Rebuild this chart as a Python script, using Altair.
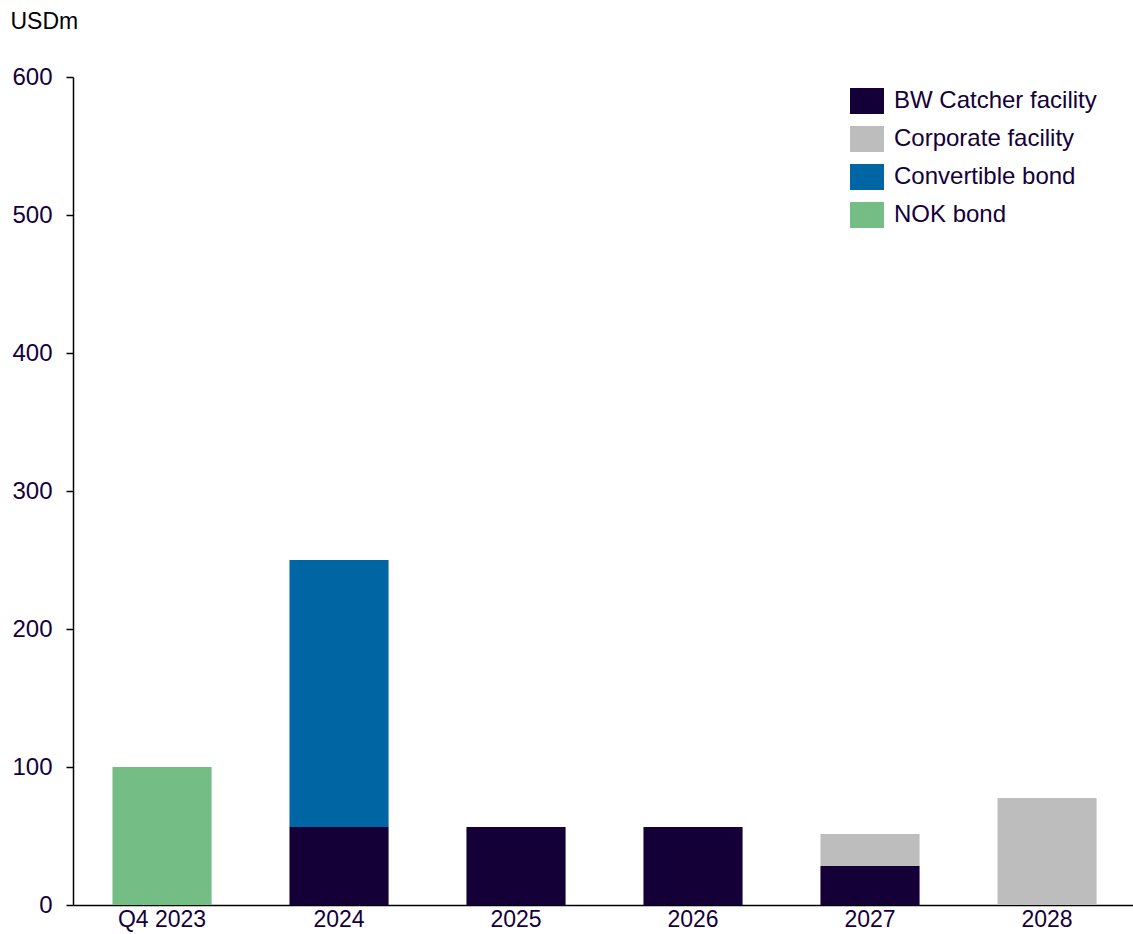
import altair as alt
import pandas as pd

periods = ["Q4 2023", "2024", "2025", "2026", "2027", "2028"]
series = ["BW Catcher facility", "Corporate facility", "Convertible bond", "NOK bond"]
colors = ["#140037", "#bdbdbd", "#0066a3", "#74be86"]
bw_catcher = [0, 56.5, 56.5, 56.5, 28.5, 0]
corporate = [0, 0, 0, 0, 23, 77.5]
convertible = [0, 193.5, 0, 0, 0, 0]
nok_bond = [100, 0, 0, 0, 0, 0]

rows = []
for i, p in enumerate(periods):
    for k, (name, vals) in enumerate(zip(series, [bw_catcher, corporate, convertible, nok_bond])):
        rows.append({"period": p, "series": name, "value": vals[i], "order": k})
df = pd.DataFrame(rows)

FONT = "Liberation Sans"
TXT = "#14003a"

chart = alt.Chart(df).mark_bar().encode(
    x=alt.X("period:N", sort=periods,
            scale=alt.Scale(paddingInner=0.44, paddingOuter=0.2144, align=0.52),
            axis=alt.Axis(title=None, labelAngle=0, ticks=False, domainColor="black",
                          domainWidth=1.5, labelColor=TXT, labelFont=FONT, labelFontSize=23,
                          labelPadding=3)),
    y=alt.Y("value:Q", stack="zero",
            scale=alt.Scale(domain=[0, 600], nice=False),
            axis=alt.Axis(values=[0, 100, 200, 300, 400, 500, 600], grid=False,
                          domainColor="black", domainWidth=1.5, tickColor="black",
                          tickSize=7, tickWidth=1.5, labelColor=TXT, labelFont=FONT,
                          labelFontSize=24, labelPadding=14,
                          title="USDm", titleAngle=0, titleAlign="left", titleBaseline="middle",
                          titleX=-63, titleY=-56, titleColor="black", titleFont=FONT,
                          titleFontSize=23, titleFontWeight="normal")),
    color=alt.Color("series:N", sort=series,
                    scale=alt.Scale(domain=series, range=colors),
                    legend=alt.Legend(title=None, orient="none", legendX=777, legendY=7,
                                      symbolType="M-1,-0.76H1V0.76H-1Z", symbolSize=1156,
                                      symbolStrokeWidth=0, symbolOpacity=1,
                                      labelFont=FONT, labelFontSize=24, labelColor=TXT,
                                      labelOffset=10, rowPadding=8, labelLimit=400)),
    order=alt.Order("order:Q", sort="ascending"),
).properties(
    width=1060, height=828,
    autosize=alt.AutoSizeParams(type="none"),
    padding={"left": 73, "top": 77, "right": 0, "bottom": 29},
).configure_view(stroke=None)

chart.save("out.html", embed_options={"renderer": "svg", "actions": False})
